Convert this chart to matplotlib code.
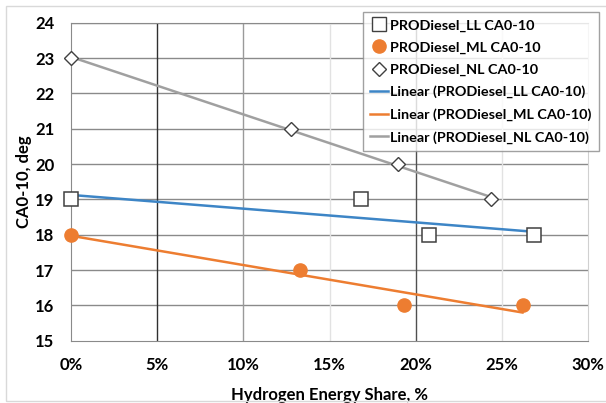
import numpy as np
import matplotlib.pyplot as plt
from matplotlib.lines import Line2D

plt.rcParams['font.family'] = ['Lato', 'DejaVu Sans']
plt.rcParams['font.weight'] = 'bold'

# hydrogen energy share (%) and CA0-10 (deg)
ll_x = [0.0, 16.8, 20.8, 26.85]
ll_y = [19, 19, 18, 18]
ml_x = [0.0, 13.3, 19.35, 26.2]
ml_y = [18, 17, 16, 16]
nl_x = [0.0, 12.75, 18.95, 24.4]
nl_y = [23, 21, 20, 19]

x_ticks = [0, 5, 10, 15, 20, 25, 30]
y_ticks = list(range(15, 25))

c_ll = '#3d85c6'
c_ml = '#ed7d31'
c_nl = '#a0a0a0'

fig = plt.figure(figsize=(6.06, 4.03), dpi=100)
ax = fig.add_axes([71/606, 1-340.7/403, (588-71)/606, (340.7-22.7)/403])

# grid, darkness varies like in the original picture
for v in y_ticks[1:]:
    ax.axhline(v, color='#8a8a8a', lw=1.0, zorder=0)
vcol = {5: '#303030', 10: '#9a9a9a', 15: '#e2e2e2', 20: '#505050', 25: '#e2e2e2'}
for v, c in vcol.items():
    ax.axvline(v, color=c, lw=1.0, zorder=0)

def trend(x, y, color):
    k, b = np.polyfit(x, y, 1)
    xx = np.array([min(x), max(x)])
    ax.plot(xx, k*xx + b, color=color, lw=1.8, zorder=2)

trend(ll_x, ll_y, c_ll)
trend(ml_x, ml_y, c_ml)
trend(nl_x, nl_y, c_nl)

ax.plot(ll_x, ll_y, 's', ms=10, mfc='white', mec='#404040', mew=1.1, ls='none', zorder=3, clip_on=False)
ax.plot(ml_x, ml_y, 'o', ms=9.5, mfc=c_ml, mec=c_ml, ls='none', zorder=3, clip_on=False)
ax.plot(nl_x, nl_y, 'D', ms=7.5, mfc='white', mec='#404040', mew=1.0, ls='none', zorder=3, clip_on=False)

ax.set_xlim(0, 30)
ax.set_ylim(15, 24)
ax.set_xticks(x_ticks)
ax.set_xticklabels([f'{t}%' for t in x_ticks])
ax.set_yticks(y_ticks)
ax.tick_params(length=0, labelsize=12, pad=12)
ax.spines['top'].set_color('#8a8a8a')
ax.spines['right'].set_color('#d0d0d0')
ax.spines['left'].set_color('#8a8a8a')
ax.spines['bottom'].set_color('#8a8a8a')

ax.set_xlabel('Hydrogen Energy Share, %', fontsize=12, fontweight='bold', labelpad=10)
ax.set_ylabel('CA0-10, deg', fontsize=12, fontweight='bold', labelpad=2)

handles = [
    Line2D([], [], marker='s', ms=10, mfc='white', mec='#404040', ls='none'),
    Line2D([], [], marker='o', ms=9.5, mfc=c_ml, mec=c_ml, ls='none'),
    Line2D([], [], marker='D', ms=7, mfc='white', mec='#404040', ls='none'),
    Line2D([], [], color=c_ll, lw=1.8),
    Line2D([], [], color=c_ml, lw=1.8),
    Line2D([], [], color=c_nl, lw=1.8),
]
labels = ['PRODiesel_LL CA0-10', 'PRODiesel_ML CA0-10', 'PRODiesel_NL CA0-10',
          'Linear (PRODiesel_LL CA0-10)', 'Linear (PRODiesel_ML CA0-10)',
          'Linear (PRODiesel_NL CA0-10)']
leg = fig.legend(handles, labels, loc='upper left', bbox_to_anchor=(363/606, 1-12/403),
                 fontsize=10.4, frameon=True, fancybox=False, edgecolor='#8a8a8a',
                 handlelength=1.2, handletextpad=0.2, labelspacing=0.68,
                 borderpad=0.5, borderaxespad=0)
leg.get_frame().set_linewidth(1.0)

fig.patches.append(plt.Rectangle((6/606, 0.005), 1, 1-8/403, transform=fig.transFigure,
                                 fill=False, edgecolor='#d9d9d9', lw=1))

fig.savefig('out.png', dpi=100)
